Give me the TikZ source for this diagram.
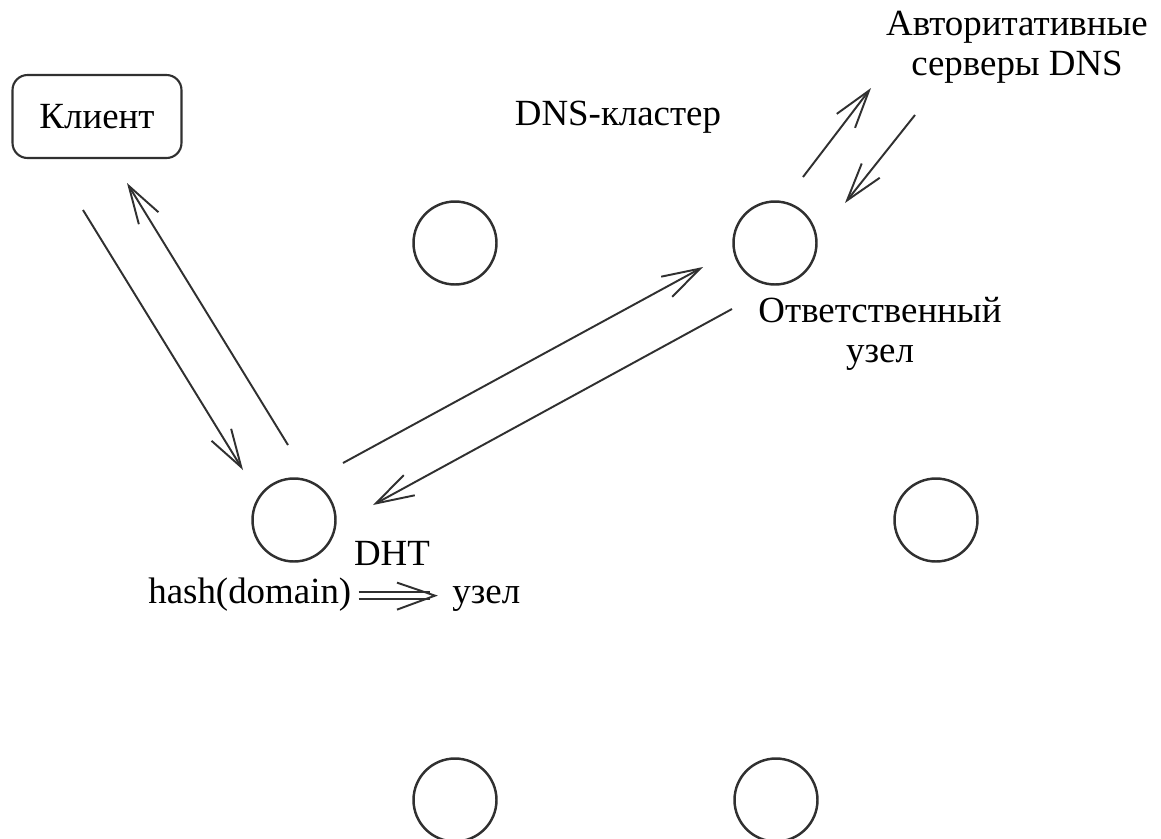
\documentclass[tikz,border=0pt]{standalone}
\usepackage{fontspec}
\setmainfont{Liberation Serif}
\usetikzlibrary{arrows.meta,calc}
\definecolor{ink}{HTML}{303030}
\begin{document}
\begin{tikzpicture}[x=0.02cm,y=-0.02cm,
  every node/.style={font=\fontsize{21}{22.7}\selectfont, text=black},
  peer/.style={draw=ink, circle, minimum size=1.66cm, inner sep=0pt, line width=1.4pt},
  clientbox/.style={draw=ink, rounded corners=0.3cm, minimum width=3.38cm,
                    minimum height=1.66cm, line width=1.2pt},
  msg/.style={draw=ink, line width=1.1pt,
              -{Straight Barb[length=0.76cm,width=0.46cm]}},
  implies/.style={draw=ink, line width=1.1pt},
]
% page frame
\fill[white] (0,0) rectangle (1161,839);
\path[use as bounding box, clip] (0,0) rectangle (1161,839);

% client and labels (base of a two-line label is its last line)
\node[clientbox] (client) at (97,116.5) {Клиент};
\node[anchor=base] (cluster) at (618,125) {DNS-кластер};
\node[align=center, anchor=base] (auth) at (1017,75) {Авторитативные\\серверы DNS};
\node[align=center, anchor=base] (resp) at (880,362) {Ответственный\\узел};

% cluster peers
\node[peer] (p1)   at (455,243) {};
\node[peer] (pr)   at (775,243) {};
\node[peer] (dht)  at (294,520) {};
\node[peer] (p4)   at (936,520) {};
\node[peer] (p5)   at (455,800) {};
\node[peer] (p6)   at (776,800) {};

% DHT mapping
\node[anchor=base] (dhtlabel) at (392,565) {DHT};
\node[anchor=base west, inner sep=0pt] (hash) at (148,603) {hash(domain)};
\node[anchor=base west, inner sep=0pt] (uzel) at (452,603) {узел};

\coordinate (ds) at ($(hash.east)+(7,1.5)$);
\coordinate (de) at ($(hash.east -| uzel.west)+(-17,1.5)$);
\draw[implies] ($(ds)+(0,-3.5)$) -- ($(de)+(-5,-3.5)$);
\draw[implies] ($(ds)+(0,3.5)$) -- ($(de)+(-5,3.5)$);
\draw[implies] ($(de)+(-38,-13)$) -- (de) -- ($(de)+(-38,14)$);

% message endpoints
\coordinate (c1s) at (83,210);   \coordinate (c1e) at (243,470);
\coordinate (c2s) at (288,445);  \coordinate (c2e) at (127,183);
\coordinate (d1s) at (343,463);  \coordinate (d1e) at (703,267);
\coordinate (d2s) at (732,309);  \coordinate (d2e) at (373,505);
\coordinate (a1s) at (803,177);  \coordinate (a1e) at (871,88);
\coordinate (a2s) at (915,115);  \coordinate (a2e) at (845,203);

% messages
\draw[msg] (c1s) -- (c1e);
\draw[msg] (c2s) -- (c2e);
\draw[msg] (d1s) -- (d1e);
\draw[msg] (d2s) -- (d2e);
\draw[msg] (a1s) -- (a1e);
\draw[msg] (a2s) -- (a2e);
\end{tikzpicture}
\end{document}
